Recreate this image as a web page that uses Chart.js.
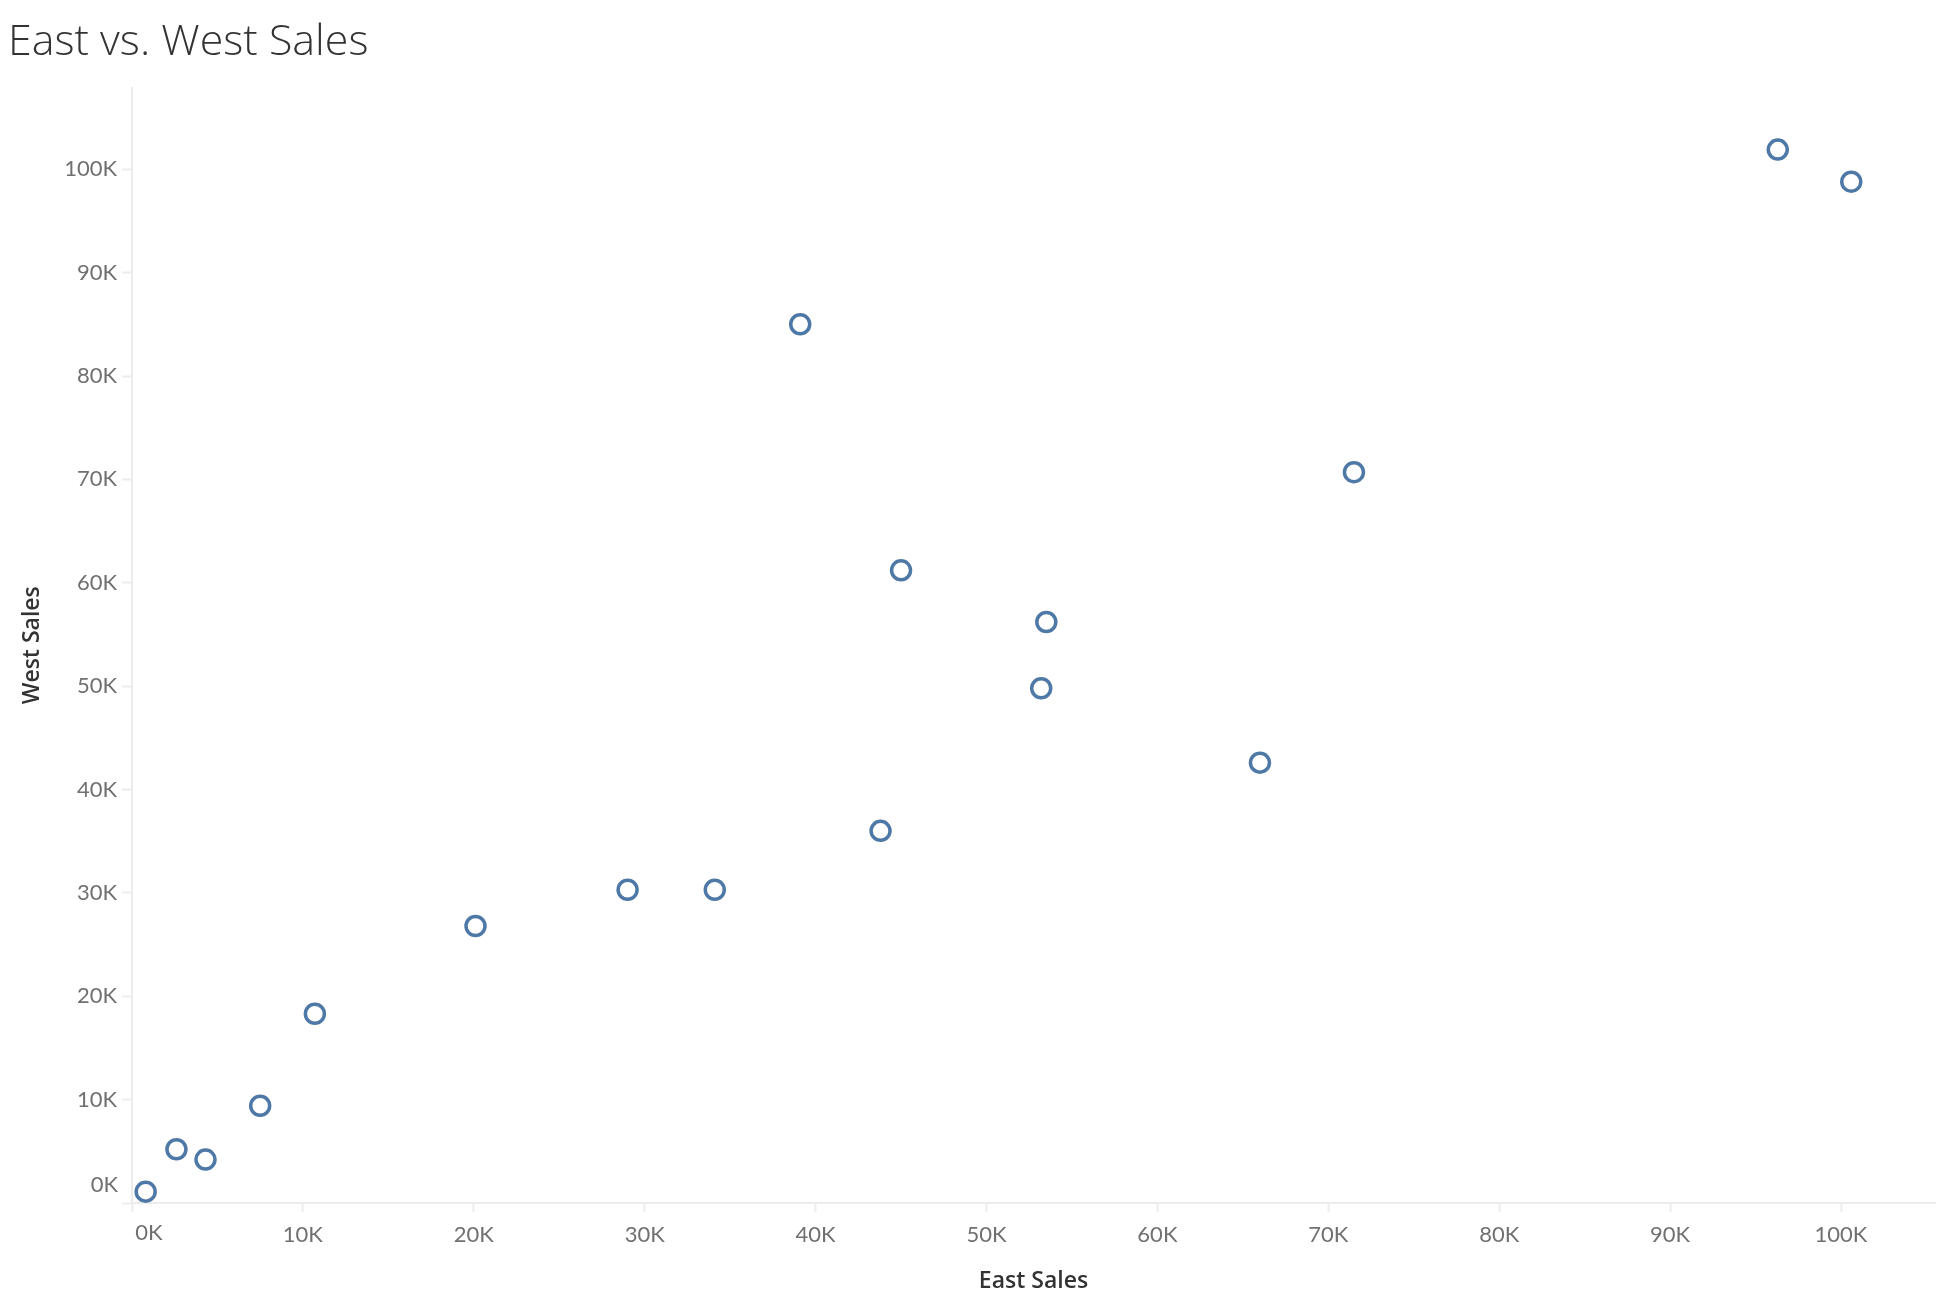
<!DOCTYPE html>
<html lang="en">
<head>
  <meta charset="UTF-8">
  <title>East vs. West Sales</title>
  <script src="https://cdn.jsdelivr.net/npm/chart.js"></script>
  <style>
    body { margin: 0; background: #fff; }
    canvas { display: block; }
  </style>
</head>
<body>
  <canvas id="salesChart" width="1948" height="1312"></canvas>

  <script>
    // values (one point per market)
    const eastSales = [800, 2600, 4300, 7500, 10700, 20100, 29000, 34100, 39100,
                       43800, 45000, 53200, 53500, 66000, 71500, 96300, 100600];
    const westSales = [1100, 5200, 4200, 9400, 18300, 26800, 30300, 30300, 85000,
                       36000, 61200, 49800, 56200, 42600, 70700, 101900, 98800];

    const xTicks = [0, 10000, 20000, 30000, 40000, 50000, 60000, 70000, 80000, 90000, 100000];
    const yTicks = [0, 10000, 20000, 30000, 40000, 50000, 60000, 70000, 80000, 90000, 100000];

    const points = eastSales.map((x, i) => ({ x: x, y: westSales[i] }));

    const tickColor = '#707070';
    const lineColor = '#ececec';
    const fmtK = v => Math.round(v / 1000) + 'K';

    // zero labels sit nudged inside the pane, like the original
    const zeroLabels = {
      id: 'zeroLabels',
      afterDraw(chart) {
        const ctx = chart.ctx;
        const x = chart.scales.x, y = chart.scales.y;
        ctx.save();
        ctx.font = '22px Lato, sans-serif';
        ctx.fillStyle = tickColor;
        ctx.textBaseline = 'middle';
        ctx.textAlign = 'right';
        ctx.fillText('0K', 118, y.getPixelForValue(0) - 18);
        ctx.textAlign = 'center';
        ctx.fillText('0K', x.getPixelForValue(0) + 17, 1233);
        ctx.restore();
      }
    };

    const ctx = document.getElementById('salesChart').getContext('2d');
    new Chart(ctx, {
      type: 'scatter',
      data: {
        datasets: [{
          label: 'Sales',
          data: points,
          borderColor: '#4e79a7',
          backgroundColor: 'rgba(255,255,255,0)',
          borderWidth: 3.5,
          pointRadius: 9.5,
          pointHoverRadius: 9.5
        }]
      },
      options: {
        responsive: false,
        animation: false,
        layout: { padding: { left: 8, top: 0, right: 0, bottom: 0 } },
        plugins: {
          legend: { display: false },
          tooltip: { enabled: false },
          title: {
            display: true,
            text: 'East vs. West Sales',
            align: 'start',
            color: '#333',
            font: { family: '"Open Sans", sans-serif', size: 43, weight: '300' },
            padding: { top: 17, bottom: 19 }
          }
        },
        scales: {
          x: {
            type: 'linear',
            min: 0,
            max: 105500,
            afterFit: s => { s.height = 109; },
            afterBuildTicks: s => { s.ticks = xTicks.map(v => ({ value: v })); },
            border: { display: true, color: lineColor, width: 2 },
            grid: { drawOnChartArea: false, drawTicks: true, tickLength: 9, color: lineColor, tickWidth: 2 },
            ticks: {
              autoSkip: false,
              maxRotation: 0,
              padding: 10,
              color: tickColor,
              font: { family: 'Lato, sans-serif', size: 22 },
              callback: v => v === 0 ? '' : fmtK(v)
            },
            title: {
              display: true,
              text: 'East Sales',
              color: '#333',
              font: { family: '"Open Sans", sans-serif', size: 23, weight: '600' },
              padding: { top: 0, bottom: 17 }
            }
          },
          y: {
            type: 'linear',
            min: 0,
            max: 107900,
            afterFit: s => { s.width = 124; },
            afterBuildTicks: s => { s.ticks = yTicks.map(v => ({ value: v })); },
            border: { display: true, color: lineColor, width: 2 },
            grid: { drawOnChartArea: false, drawTicks: true, tickLength: 10, color: lineColor, tickWidth: 2 },
            ticks: {
              autoSkip: false,
              padding: 5,
              color: tickColor,
              font: { family: 'Lato, sans-serif', size: 22 },
              callback: v => v === 0 ? '' : fmtK(v)
            },
            title: {
              display: true,
              text: 'West Sales',
              color: '#333',
              font: { family: '"Open Sans", sans-serif', size: 23, weight: '600' },
              padding: { top: 11, bottom: 0 }
            }
          }
        }
      },
      plugins: [zeroLabels]
    });
  </script>
</body>
</html>
